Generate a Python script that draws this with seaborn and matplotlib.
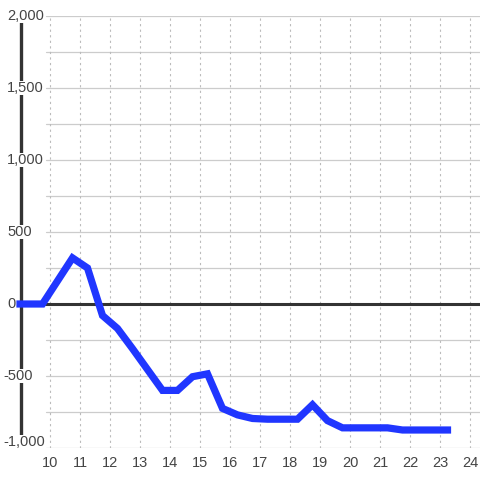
import matplotlib
matplotlib.use("Agg")
import matplotlib.pyplot as plt
import seaborn as sns

# Datos (hora del día, valor)
horas = [9.0, 9.75, 10.25, 10.75, 11.25, 11.75, 12.25, 12.75, 13.25, 13.75,
         14.25, 14.75, 15.25, 15.75, 16.25, 16.75, 17.25, 17.75, 18.25, 18.75,
         19.25, 19.75, 20.25, 20.75, 21.25, 21.75, 22.25, 22.75, 23.25]
valores = [0, 0, 160, 320, 250, -80, -170, -310, -455, -600,
           -600, -505, -485, -725, -770, -795, -800, -800, -800, -700,
           -810, -860, -860, -860, -860, -875, -875, -875, -875]
x_ticks = list(range(10, 25))
y_ticks = list(range(-1000, 2001, 500))
y_grid = list(range(-1000, 2001, 250))

sns.set_style("white")
plt.rcParams['font.family'] = ['Liberation Sans', 'DejaVu Sans']

fig = plt.figure(figsize=(4.8, 4.8), dpi=100)
ax = fig.add_axes([0, 32 / 480, 1, 432 / 480])
ax.set_xlim(10 - 50 / 30, 10 + 430 / 30)
ax.set_ylim(-1000, 2000)
for s in ax.spines.values():
    s.set_visible(False)
ax.set_xticks([])
ax.set_yticks([])

# Rejilla
for h in y_grid:
    ax.axhline(h, xmin=46 / 480, color="#cccccc", lw=0.9, zorder=1)
ax.vlines(x_ticks, -1000, 2000, colors="#bbbbbb", lw=0.8,
          linestyles=(0, (2, 3)), zorder=1)

# Ejes
ax.axhline(0, xmin=18 / 480, color="#333333", lw=2.2, zorder=2)
ax.vlines([9.02], -1000, 2000, colors="#333333", lw=2.4, zorder=2)

# Etiquetas del eje y
for v in y_ticks:
    etiqueta = f"{v:,}"
    xpos = 10 + (7 - 50) / 30 if v >= 0 else 10 + (3 - 50) / 30
    ypos = v if v > -1000 else v + 42
    ax.text(xpos, ypos, etiqueta, ha="left", va="center", fontsize=10.5,
            color="#444444", zorder=3,
            bbox=dict(facecolor="white", edgecolor="none", pad=0))

# Etiquetas del eje x
for t in x_ticks:
    ax.text(t, -1055, str(t), ha="center", va="top", fontsize=10.5,
            color="#444444")

sns.lineplot(x=horas, y=valores, ax=ax, color="#2036ff", lw=5.2,
             solid_joinstyle="miter", solid_capstyle="projecting", zorder=4,
             clip_on=False)

fig.savefig("out.png", dpi=100)
